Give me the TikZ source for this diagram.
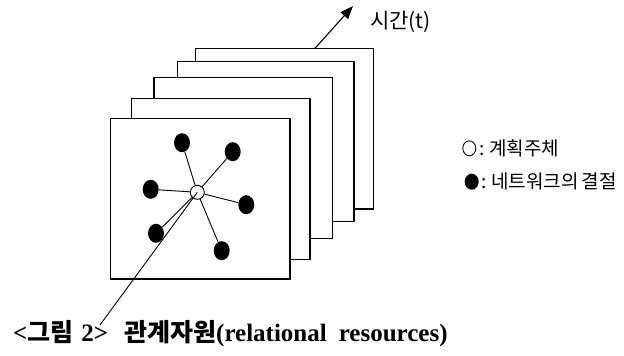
\documentclass[tikz,border=0pt]{standalone}
\usepackage{fontspec}
\setmainfont{Liberation Serif}
\newfontfamily\kr{Noto Sans CJK KR}
\usetikzlibrary{arrows.meta, shapes.geometric}

\tikzset{
  frame/.style={draw, fill=white, line width=1.1pt, inner sep=0pt},
  actor/.style={circle, draw, fill=white, line width=0.9pt, minimum size=14pt, inner sep=0pt},
  knot/.style={ellipse, fill=black, minimum width=16pt, minimum height=19pt, inner sep=0pt},
  tie/.style={line width=0.9pt},
  legend/.style={font=\kr\fontsize{19}{22}\selectfont, anchor=west, inner sep=0pt},
}
\newcommand{\hg}[1]{{\kr\bfseries\fontsize{25}{28}\selectfont #1}}

\begin{document}
\begin{tikzpicture}[x=1pt, y=-1pt]
\useasboundingbox (0,0) rectangle (624,356);

% stack of time slices, back to front
\node[frame, minimum width=177.6pt, minimum height=160.7pt] (f5) at (284.5,128.65) {};
\node[frame, minimum width=176.3pt, minimum height=160pt]   (f4) at (265.85,141.7) {};
\node[frame, minimum width=178.3pt, minimum height=161pt]   (f3) at (243.15,157.8) {};
\node[frame, minimum width=178.3pt, minimum height=160.6pt] (f2) at (220.85,179) {};
\node[frame, minimum width=179.3pt, minimum height=160.7pt] (f1) at (200.35,198.65) {};

% time axis
\coordinate (t0) at (315,48.3);
\coordinate (t1) at (353,6);
\draw[line width=1.1pt, -{Triangle[length=13pt, width=10pt]}] (t0) -- (t1);
\node[font=\kr\fontsize{21}{24}\selectfont, anchor=west, inner sep=0pt] (time) at (370,22) {시간(t)};

% planning actor and its network knots
\coordinate (c) at (197.3,192.3);
\node[knot] (k1) at (182,142.7) {};
\node[knot] (k2) at (232.7,151.7) {};
\node[knot] (k3) at (150.7,189.3) {};
\node[knot] (k4) at (246.3,204.7) {};
\node[knot] (k5) at (156,233.3) {};
\node[knot] (k6) at (221.7,250.7) {};
\node[actor] (a) at (c) {};
\foreach \k in {k1,k2,k3,k4,k5,k6}
  \draw[tie] (a) -- (\k);

% caption and its pointer
\node[anchor=base west, inner sep=0pt, font=\bfseries\fontsize{25}{28}\selectfont] (cap) at (13,341)
  {<\hg{그림}\hspace{8pt}2>\hspace{16pt}\hg{관계자원}(relational\hspace{12pt}resources)};
\coordinate (p) at (100,325);
\draw[line width=0.9pt] (p) -- (c);

% legend
\node[ellipse, draw, line width=0.9pt, minimum width=13pt, minimum height=15pt, inner sep=0pt] (l1) at (469.3,148.3) {};
\node[legend] (t1l) at (479,148.3) {:\hspace{5pt}계획주체};
\node[ellipse, fill=black, minimum width=14pt, minimum height=16pt, inner sep=0pt] (l2) at (471.7,181.7) {};
\node[legend] (t2l) at (481,181.7) {:\hspace{5pt}네트워크의\hspace{3pt}결절};
\end{tikzpicture}
\end{document}
